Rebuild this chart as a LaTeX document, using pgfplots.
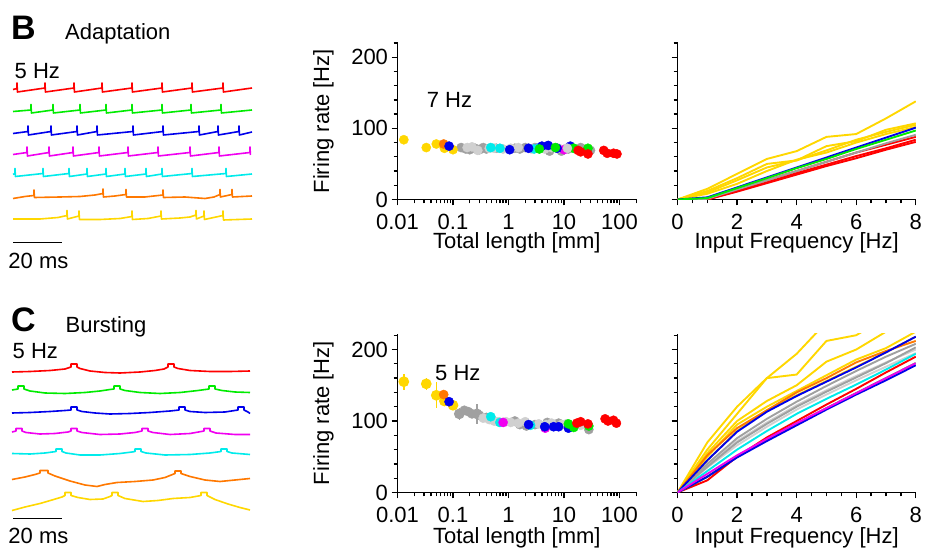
\documentclass[border=0pt]{standalone}
\usepackage{pgfplots}
\pgfplotsset{compat=1.18}
\usepackage{fontspec}
\setmainfont{Liberation Sans}
\definecolor{cred}{RGB}{255,0,0}
\definecolor{cgreen}{RGB}{0,235,0}
\definecolor{cblue}{RGB}{0,0,235}
\definecolor{cmag}{RGB}{240,0,240}
\definecolor{ccyan}{RGB}{0,235,235}
\definecolor{corange}{RGB}{255,120,0}
\definecolor{cyellow}{RGB}{255,215,0}
\definecolor{cgrey}{RGB}{160,160,160}
\definecolor{clgrey}{RGB}{208,208,208}
\newcommand{\fs}{\fontsize{22}{24}\selectfont}
\pgfplotsset{
  panel/.style={
    scale only axis, axis lines*=left,
    axis line style={line width=1.5pt},
    every tick/.style={line width=1.3pt, black},
    tick align=outside, major tick length=6pt, minor tick length=4pt,
    tick label style={font=\fs},
    xticklabel shift=5pt,
    /pgf/number format/assume math mode=true,
    ymin=0, ytick={0,100,200}, minor ytick={20,40,60,80,120,140,160,180,220},
    clip=true,
  },
  logpanel/.style={panel, xmin=0.01, xmax=200, width=238.7pt,
    xtick={0.01,0.1,1,10,100}, xticklabels={0.01,0.1,1,10,100},
    minor xtick={0.02,0.03,0.04,0.05,0.06,0.07,0.08,0.09,0.2,0.3,0.4,0.5,0.6,0.7,0.8,0.9,2,3,4,5,6,7,8,9,20,30,40,50,60,70,80,90,200},
    ylabel={Firing rate [Hz]}, xlabel={Total length [mm]},
    every axis y label/.style={at={(axis description cs:-0.31,0.5)}, rotate=90, anchor=center, font=\fs},
  },
  linpanel/.style={panel, xmin=0, xmax=8, width=238.3pt,
    xtick={0,2,4,6,8}, minor xtick={0.5,1,1.5,2.5,3,3.5,4.5,5,5.5,6.5,7,7.5},
    yticklabels={}, xlabel={Input Frequency [Hz]},
  },
  dot/.style={only marks, mark=*, mark size=4.6pt, color=#1},
  ln/.style={line width=1.9pt, #1},
  tr/.style={line width=1.6pt, #1, line join=round},
}
\begin{document}
\begin{tikzpicture}
\useasboundingbox (0,0) rectangle (927pt,548pt);

% ---------------- Traces and texts (pixel coordinates) ----------------
\begin{axis}[at={(0pt,0pt)}, anchor=south west, scale only axis, width=927pt, height=548pt,
  xmin=0, xmax=927, ymin=0, ymax=548, y dir=reverse, hide axis, clip=false]
% Adaptation traces
\addplot[tr=cred] coordinates {(13,89.5)(17,88.5)(17,83)(17.4,92)(45,88)(45,83)(45.4,92)(74,88)(74,83)(74.4,92)(102,88)(102,83)(102.4,92)(132,88)(132,83)(132.4,92)(162,88)(162,83)(162.4,92)(192,88)(192,83)(192.4,92)(223,88)(223,83)(223.4,92)(252,88)};
\addplot[tr=cgreen] coordinates {(13,111.5)(31,110)(31,104.5)(31.4,113)(53,110)(53,104.5)(53.4,113)(80,110)(80,104.5)(80.4,113)(106,110)(106,104.5)(106.4,113)(132,110)(132,104.5)(132.4,113)(162,110)(162,104.5)(162.4,113)(191,110)(191,104.5)(191.4,113)(221,110)(221,104.5)(221.4,113)(252,110)};
\addplot[tr=cblue] coordinates {(13,133.5)(28,131.5)(28,126)(28.4,135)(51,131.5)(51,126)(51.4,135)(77,131.5)(77,126)(77.4,135)(97,131.5)(97,126)(97.4,135)(133,131.5)(133,126)(133.4,135)(163,131.5)(163,126)(163.4,135)(199,131.5)(199,126)(199.4,135)(218,131.5)(218,126)(218.4,135)(239,131.5)(239,126)(239.4,135)(252,132)};
\addplot[tr=cmag] coordinates {(13,154.5)(27,152.5)(27,147)(27.4,156)(49,152.5)(49,147)(49.4,156)(73,152.5)(73,147)(73.4,156)(99,152.5)(99,147)(99.4,156)(128,152.5)(128,147)(128.4,156)(158,152.5)(158,147)(158.4,156)(190,152.5)(190,147)(190.4,156)(219,152.5)(219,147)(219.4,156)(250,152.5)(250,147)(250.4,155)};
\addplot[tr=ccyan] coordinates {(13,174.5)(15,173.5)(15,168.5)(15.4,176.5)(43,173.5)(43,168.5)(43.4,176.5)(69,173.5)(69,168.5)(69.4,176.5)(87,174)(87,168.5)(87.4,176.5)(106,174)(106,168.5)(106.4,176.5)(125,174)(125,168.5)(125.4,176.5)(146,174)(146,168.5)(146.4,176.5)(162,174)(162,168.5)(162.4,176.5)(192,173.5)(192,168.5)(192.4,176.5)(226,173.5)(226,168.5)(226.4,176.5)(252,174)};
\addplot[tr=corange] coordinates {(13,198.5)(25,196.5)(34,195.5)(34,190)(34.4,197.5)(60,197)(80,196.5)(95,195)(103,193.5)(103,189)(103.4,197)(115,196)(126,194.5)(126,189.5)(126.4,197)(145,197)(163,195)(163,190)(163.4,197.5)(185,197)(205,198.5)(214,197)(220,194.5)(220,189.5)(220.4,197)(232,194.5)(232,189.5)(232.4,197)(252,196)};
\addplot[tr=cyellow] coordinates {(13,219)(40,219)(58,217.5)(67,215.5)(67,210.5)(67.4,219)(79,216)(79,211)(79.4,219.5)(100,219.5)(120,218.5)(132,216.5)(132,211)(132.4,219.5)(148,218.5)(161,216)(161,211)(161.4,219)(180,218)(190,217)(196,215)(196,210.5)(196.4,219)(204,216)(204,211)(204.4,219.5)(223,215.5)(223,211)(223.4,220)(252,219)};
% Bursting traces
\addplot[tr=cred] coordinates {(12,372)(30,371.5)(50,370.5)(65,369)(71,367)(71,364)(77,364)(77,367)(80,368.5)(90,371)(105,372.5)(120,373)(140,372)(155,370.5)(164,369)(168,367)(168,364)(174,364)(174,367)(178,368.5)(190,370.5)(210,371.5)(230,371.5)(250,371)};
\addplot[tr=cgreen] coordinates {(12,390)(18,389)(18,386)(24,386)(24,389)(30,391)(45,393)(65,393.5)(85,392.5)(100,391)(110,389.5)(114,389)(114,386)(120,386)(120,389)(125,390.5)(140,392.5)(160,393.5)(180,392.5)(198,390.5)(209,389)(209,386)(215,386)(215,389)(222,390.5)(235,392)(250,392.5)};
\addplot[tr=cblue] coordinates {(12,413)(30,412.5)(50,411.5)(65,410.5)(71,410)(71,407)(77,407)(77,410)(82,411.5)(95,413)(110,414)(130,413.5)(150,412.5)(170,411)(179,410)(179,407)(185,407)(185,410)(190,411.5)(205,412.5)(225,412)(238,410)(238,407)(244,407)(244,410)(248,412)(250,413.5)};
\addplot[tr=cmag] coordinates {(12,432)(16,431)(16,428.5)(22,428.5)(22,431)(26,432.5)(40,434)(55,433.5)(68,432)(71,431)(71,428.5)(77,428.5)(77,431)(82,432.5)(100,434.5)(120,434)(135,432.5)(142,431)(142,428.5)(148,428.5)(148,431)(153,432.5)(170,434.5)(190,433.5)(204,431)(204,428.5)(210,428.5)(210,431)(216,433)(235,434.5)(250,434.5)};
\addplot[tr=ccyan] coordinates {(12,453.5)(30,454)(45,453)(56,451.5)(56,449)(62,449)(62,451.5)(66,453)(80,455)(100,455)(120,453.5)(132,452)(135,451.5)(135,449)(141,449)(141,451.5)(146,453)(165,455)(190,454.5)(210,453)(221,451.5)(221,449)(227,449)(227,451.5)(232,453)(250,454.5)};
\addplot[tr=corange] coordinates {(12,479.5)(25,477)(35,474.5)(40,473)(40,470.5)(48,470.5)(48,473)(55,476)(70,481)(85,485)(97,486.5)(105,484.5)(117,482.5)(135,481.5)(153,480)(165,477.5)(175,473.5)(175,471)(181,471)(181,473.5)(190,476.5)(205,480)(220,481.5)(235,480)(250,478.5)};
\addplot[tr=cyellow] coordinates {(12,510.5)(25,507)(40,503.5)(52,500)(62,497)(65,495.5)(65,492.5)(71,492.5)(71,495.5)(78,497.5)(90,499.5)(103,499)(110,496.5)(112,495.5)(112,492.5)(118,492.5)(118,495.5)(125,498.5)(143,501.5)(158,500.5)(173,498.5)(190,497.5)(201,495.5)(201,492.5)(207,492.5)(207,495.5)(215,499.5)(228,504)(240,507.5)(250,510)};
% scale bars
\addplot[line width=1.6pt, black] coordinates {(13.3,242.7)(61.7,242.7)};
\addplot[line width=1.6pt, black] coordinates {(13.3,518.3)(61.7,518.3)};
% texts
\node[anchor=base west, inner sep=0pt, font=\fontsize{34}{36}\selectfont\bfseries] at (axis cs:11,39.5) {B};
\node[anchor=base west, inner sep=0pt, font=\fs] at (axis cs:65,40) {Adaptation};
\node[anchor=base west, inner sep=0pt, font=\fontsize{34}{36}\selectfont\bfseries] at (axis cs:11,331.5) {C};
\node[anchor=base west, inner sep=0pt, font=\fs] at (axis cs:65.5,332.5) {Bursting};
\node[anchor=base west, inner sep=0pt, font=\fs] at (axis cs:14.5,78.3) {5 Hz};
\node[anchor=base west, inner sep=0pt, font=\fs] at (axis cs:12.5,358.3) {5 Hz};
\node[anchor=base west, inner sep=0pt, font=\fs] at (axis cs:8.3,268.3) {20 ms};
\node[anchor=base west, inner sep=0pt, font=\fs] at (axis cs:8.3,543.3) {20 ms};
\node[anchor=base west, inner sep=0pt, font=\fs] at (axis cs:426.7,107.3) {7 Hz};
\node[anchor=base west, inner sep=0pt, font=\fs] at (axis cs:435,380.7) {5 Hz};
\end{axis}

% ---------------- Top middle: firing rate vs total length ----------------
\begin{axis}[xmode=log, logpanel, at={(397.5pt,348.5pt)}, anchor=south west, height=156.5pt, ymax=220,
  every axis x label/.style={at={(axis description cs:0.5,0)}, anchor=center, yshift=-43pt, font=\fs, inner sep=0pt}]
\addplot[dot=cgrey] coordinates {(0.14,73)(0.17,71)(0.2,70)(0.25,72)(0.3,70)(0.35,73)(0.4,71)(0.6,72)(1.3,72)(1.6,71)(2,73)(3,73)(5.5,68)(9,68)(12,71)(20,73)(30,69)};
\addplot[dot=clgrey] coordinates {(0.18,73)(0.22,74)(0.28,69)(0.45,72)(0.55,72)(0.8,71)(1.1,72)(1.5,73)(2.6,71)(4.5,71)(6,73)(8,72)(11,72)(15,72)};
\addplot[dot=cyellow] coordinates {(0.013,84)(0.033,73)(0.05,78)(0.07,72)(0.1,70)};
\addplot[dot=corange] coordinates {(0.068,78)};
\addplot[dot=cmag] coordinates {(3.3,72)(10,70)};
\addplot[dot=ccyan] coordinates {(0.48,73)(0.7,72)(2.9,71)(3.6,73)};
\addplot[dot=cblue] coordinates {(0.085,75)(1.05,70)(2.3,72)(4,75)(5.2,76)(7.5,72)(13,75)};
\addplot[dot=cgreen] coordinates {(3.6,71)(7,73)(15,72)(27,72)};
\addplot[dot=cred] coordinates {(18,69)(20,67)(27,64)(52,69)(60,65)(78,65)(90,64)};
\addplot[dot=clgrey] coordinates {(11.5,72)};
\end{axis}

% ---------------- Top right: firing rate vs input frequency ----------------
\begin{axis}[linpanel, at={(677.5pt,348.5pt)}, anchor=south west, height=156.5pt, ymax=220,
  every axis x label/.style={at={(axis description cs:0.5,0)}, anchor=center, yshift=-43pt, font=\fs, inner sep=0pt}]
\addplot[ln=cyellow] coordinates {(0,0)(1,15)(2,36)(3,57)(4,68)(5,88)(6,92)(7,114)(8,138)};
\addplot[ln=cyellow] coordinates {(0,0)(1,12)(2,30)(3,50)(4,55)(5,75)(6,82)(7,98)(8,107)};
\addplot[ln=cyellow] coordinates {(0,0)(1,10)(2,27)(3,45)(4,55)(5,69)(6,84)(7,95)(8,105)};
\addplot[ln=cyellow] coordinates {(0,0)(1,8)(2,22)(3,40)(4,56)(5,66)(6,80)(7,92)(8,102)};
\addplot[ln=cred] coordinates {(0,0)(1,0)(2,14)(3,27)(4,40)(5,53)(6,66)(7,77)(8,88)};
\addplot[ln=cred] coordinates {(0,0)(1,0)(2,12)(3,24)(4,37)(5,49)(6,61)(7,72)(8,84)};
\addplot[ln=cred] coordinates {(0,0)(1,0)(2,11)(3,23)(4,35)(5,47)(6,58)(7,70)(8,81)};
\addplot[ln=cgrey] coordinates {(0,0)(1,1)(2,14)(3,27)(4,40)(5,53)(6,66)(7,79)(8,91)};
\addplot[ln=cblue] coordinates {(0,0)(1,3)(2,17)(3,31)(4,45)(5,59)(6,73)(7,87)(8,101)};
\addplot[ln=cgreen] coordinates {(0,0)(1,2)(2,16)(3,30)(4,44)(5,57)(6,71)(7,84)(8,97)};
\end{axis}

% ---------------- Bottom middle ----------------
\begin{axis}[xmode=log, logpanel, at={(397.5pt,55.5pt)}, anchor=south west, height=158.7pt, ymax=222,
  every axis x label/.style={at={(axis description cs:0.5,0)}, anchor=center, yshift=-45pt, font=\fs, inner sep=0pt}]
\addplot[dot=cgrey] coordinates {(0.16,115)(0.19,113)(0.22,110)(0.3,108)(0.4,105)(1.3,100)(1.6,95)(2.1,93)(3,95)(5,98)(8,97)(13,92)(28,88)};
\addplot[cgrey, line width=1.5pt, only marks, mark=*, mark size=4.6pt,
  error bars/.cd, y dir=both, y explicit, error mark=none, error bar style={line width=1.5pt, cgrey}]
  coordinates {(0.13,110) +- (0,8) (0.27,110) +- (0,14)};
\addplot[dot=clgrey] coordinates {(0.35,104)(0.45,102)(0.55,100)(0.65,99)(0.9,99)(1.1,98)(1.5,97)(2,99)(3.5,96)(4.8,95)(6,97)(9,95)(11,96)(20,94)};
\addplot[dot=ccyan] coordinates {(0.48,106)(0.7,98)(2.5,94)};
\addplot[dot=cmag] coordinates {(0.8,98)(4.6,90)};
\addplot[cyellow, line width=1.5pt, only marks, mark=*, mark size=4.6pt,
  error bars/.cd, y dir=both, y explicit, error mark=none, error bar style={line width=1.5pt, cyellow}]
  coordinates {(0.013,155) +- (0,11) (0.033,152) +- (0,8) (0.05,136) +- (0,18) (0.07,128) +- (0,7) (0.1,122) +- (0,3)};
\addplot[dot=corange] coordinates {(0.068,137)};
\addplot[dot=cblue] coordinates {(0.085,127)(2.3,95)(4.5,92)(6.5,92)(8,92)(12,90)};
\addplot[dot=cgreen] coordinates {(12,96)(15,91)(28,93)};
\addplot[dot=cred] coordinates {(17,97)(20,99)(27,96)(55,103)(62,100)(78,101)(88,97)};
\end{axis}

% ---------------- Bottom right ----------------
\begin{axis}[linpanel, at={(677.5pt,55.5pt)}, anchor=south west, height=158.7pt, ymax=222,
  every axis x label/.style={at={(axis description cs:0.5,0)}, anchor=center, yshift=-45pt, font=\fs, inner sep=0pt}]
\addplot[ln=clgrey] coordinates {(0,0)(1,38)(2,72)(3,98)(4,122)(5,143)(6,163)(7,182)(8,200)};
\addplot[ln=clgrey] coordinates {(0,0)(1,35)(2,66)(3,92)(4,116)(5,137)(6,157)(7,176)(8,195)};
\addplot[ln=cgrey] coordinates {(0,0)(1,40)(2,76)(3,103)(4,127)(5,149)(6,170)(7,190)(8,208)};
\addplot[ln=cgrey] coordinates {(0,0)(1,36)(2,70)(3,96)(4,120)(5,141)(6,161)(7,181)(8,203)};
\addplot[ln=cyellow] coordinates {(0,0)(1,70)(2,120)(3,160)(4,194)(4.7,225)};
\addplot[ln=cyellow] coordinates {(0,0)(1,60)(2,110)(3,160)(4,165)(5,212)(6,220)(6.2,225)};
\addplot[ln=cyellow] coordinates {(0,0)(1,55)(2,100)(3,128)(4,150)(5,183)(6,200)(7,225)};
\addplot[ln=cyellow] coordinates {(0,0)(1,50)(2,95)(3,120)(4,142)(5,164)(6,186)(7,202)(8,225)};
\addplot[ln=cyellow] coordinates {(0,0)(1,45)(2,86)(3,115)(4,136)(5,156)(6,176)(7,196)(8,218)};
\addplot[ln=corange] coordinates {(0,0)(1,52)(2,90)(3,115)(4,140)(5,160)(6,182)(7,198)(8,212)};
\addplot[ln=cblue] coordinates {(0,0)(1,45)(2,85)(3,113)(4,135)(5,155)(6,175)(7,196)(8,218)};
\addplot[ln=ccyan] coordinates {(0,0)(1,30)(2,60)(3,86)(4,110)(5,131)(6,151)(7,172)(8,194)};
\addplot[ln=cred] coordinates {(0,0)(1,17)(2,50)(3,77)(4,100)(5,123)(6,145)(7,168)(8,190)};
\addplot[ln=cgreen] coordinates {(0,0)(1,22)(2,50)(3,73)(4,96)(5,118)(6,139)(7,160)(8,181)};
\addplot[ln=cblue] coordinates {(0,0)(1,22)(2,49)(3,72)(4,94)(5,116)(6,137)(7,157)(8,178)};
\addplot[ln=cmag] coordinates {(0,0)(1,26)(2,52)(3,75)(4,97)(5,118)(6,139)(7,160)(8,181)};
\end{axis}
\end{tikzpicture}
\end{document}
